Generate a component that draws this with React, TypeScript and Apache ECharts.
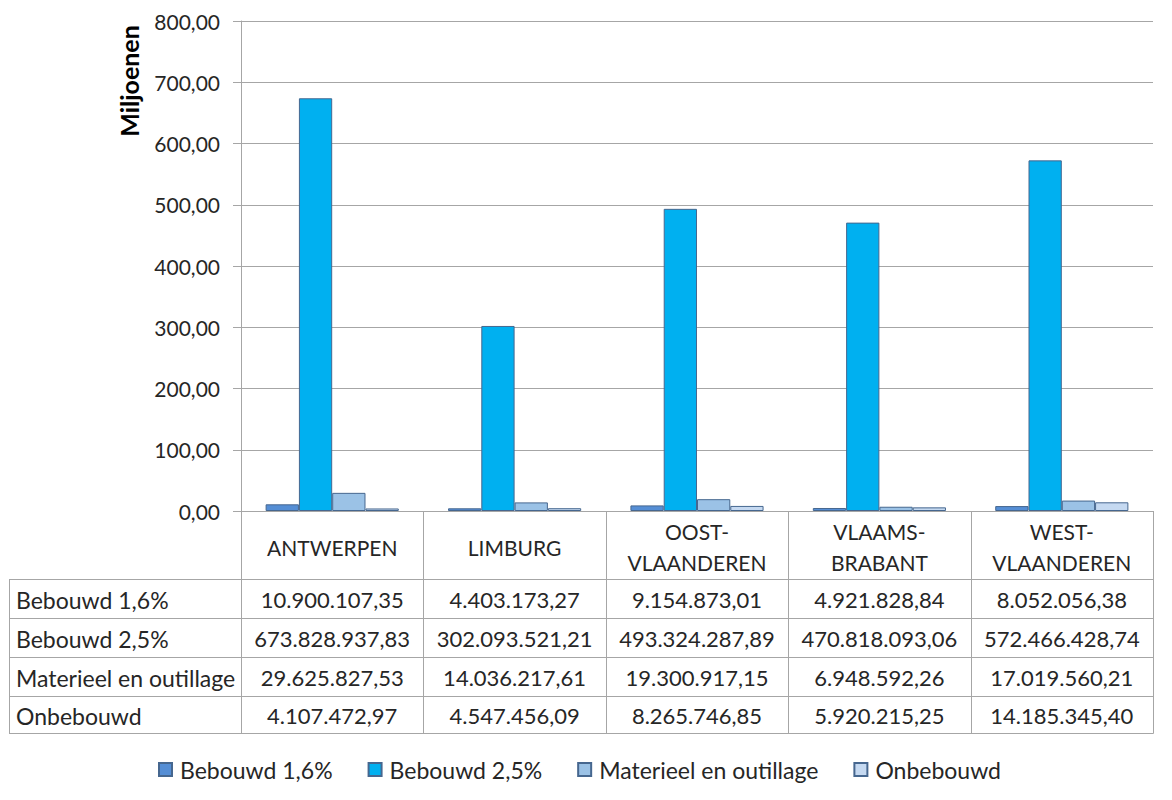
import React, { useEffect, useRef } from "react";
import * as echarts from "echarts";

const categories = ["ANTWERPEN", "LIMBURG", "OOST-\nVLAANDEREN", "VLAAMS-\nBRABANT", "WEST-\nVLAANDEREN"];
const seriesNames = ["Bebouwd 1,6%", "Bebouwd 2,5%", "Materieel en outillage", "Onbebouwd"];
const bebouwd16 = [10900107.35, 4403173.27, 9154873.01, 4921828.84, 8052056.38];
const bebouwd25 = [673828937.83, 302093521.21, 493324287.89, 470818093.06, 572466428.74];
const materieel = [29625827.53, 14036217.61, 19300917.15, 6948592.26, 17019560.21];
const onbebouwd = [4107472.97, 4547456.09, 8265746.85, 5920215.25, 14185345.4];
const colors = ["#558ED5", "#00B0F0", "#9BC2E6", "#C5D9F1"];
const yMin = 0;
const yMax = 800;
const yInterval = 100;

const allSeries = [bebouwd16, bebouwd25, materieel, onbebouwd];

function formatNL(v: number): string {
  const [intPart, dec] = v.toFixed(2).split(".");
  const grouped = intPart.replace(/\B(?=(\d{3})+(?!\d))/g, ".");
  return grouped + "," + dec;
}

const FONT = "Lato, 'Open Sans', sans-serif";
const TEXT = "#262626";
const LINE = "#a6a6a6";

export default function App() {
  const ref = useRef<HTMLDivElement>(null);
  useEffect(() => {
    if (!ref.current) return;
    const chart = echarts.init(ref.current, undefined, { renderer: "svg" });
    const gridLeft = 241;
    const gridRight = 1153;
    const gridTop = 21;
    const gridBottom = 511;
    chart.setOption({
      animation: false,
      textStyle: { fontFamily: FONT },
      grid: {
        left: gridLeft,
        right: 1172 - gridRight,
        top: gridTop,
        bottom: 800 - gridBottom,
        containLabel: false,
      },
      legend: {
        left: 153,
        top: 753,
        icon: "rect",
        itemWidth: 13,
        itemHeight: 13,
        itemGap: 35,
        textStyle: { fontFamily: FONT, fontSize: 23, color: TEXT, padding: [0, 0, 0, 3] },
        data: seriesNames,
      },
      xAxis: {
        type: "category",
        data: categories,
        axisLine: { show: true, lineStyle: { color: LINE, width: 1 } },
        axisTick: { show: false },
        axisLabel: {
          interval: 0,
          margin: 36,
          verticalAlign: "middle",
          lineHeight: 31,
          fontSize: 21,
          fontFamily: FONT,
          color: TEXT,
        },
      },
      yAxis: {
        type: "value",
        min: yMin,
        max: yMax,
        interval: yInterval,
        axisLine: { show: true, lineStyle: { color: LINE, width: 1 } },
        axisTick: { show: true, length: 8, lineStyle: { color: LINE } },
        splitLine: { show: true, lineStyle: { color: LINE, width: 1 } },
        axisLabel: {
          margin: 21,
          fontSize: 21,
          fontFamily: FONT,
          color: TEXT,
          formatter: (v: number) => v.toFixed(2).replace(".", ","),
        },
      },
      series: allSeries.map((arr, i) => ({
        name: seriesNames[i],
        type: "bar",
        data: arr.map((v) => v / 1e6),
        barGap: "0%",
        barCategoryGap: "27%",
        itemStyle: { color: colors[i], borderColor: "#46678f", borderWidth: 1 },
      })),
    });

    const centers = categories.map((c) => chart.convertToPixel({ xAxisIndex: 0 }, c) as number);
    const colW = (gridRight - gridLeft) / categories.length;
    const rowLines = [579, 618, 657, 696, 733];
    const tableLeft = 9;
    const graphics: any[] = [];
    const ln = (x1: number, y1: number, x2: number, y2: number) => ({
      type: "line",
      silent: true,
      shape: { x1, y1, x2, y2 },
      style: { stroke: LINE, lineWidth: 1 },
    });
    rowLines.forEach((y) => graphics.push(ln(tableLeft, y + 0.5, gridRight + 0.5, y + 0.5)));
    graphics.push(ln(tableLeft + 0.5, rowLines[0], tableLeft + 0.5, rowLines[4] + 0.5));
    for (let i = 0; i <= categories.length; i++) {
      const x = Math.round(gridLeft + colW * i) + 0.5;
      graphics.push(ln(x, gridBottom, x, rowLines[4] + 0.5));
    }
    seriesNames.forEach((name, r) => {
      const yc = (rowLines[r] + rowLines[r + 1]) / 2 + 1;
      graphics.push({
        type: "text",
        silent: true,
        x: 16,
        y: yc,
        style: { text: name, font: `23px ${FONT}`, fill: TEXT, textAlign: "left", textVerticalAlign: "middle" },
      });
      allSeries[r].forEach((v, c) => {
        graphics.push({
          type: "text",
          silent: true,
          x: centers[c],
          y: yc,
          style: { text: formatNL(v), font: `22px ${FONT}`, fill: TEXT, textAlign: "center", textVerticalAlign: "middle" },
        });
      });
    });
    graphics.push({
      type: "text",
      silent: true,
      x: 129,
      y: 81,
      rotation: Math.PI / 2,
      style: { text: "Miljoenen", font: `bold 25px ${FONT}`, fill: "#000", textAlign: "center", textVerticalAlign: "middle" },
    });
    chart.setOption({ graphic: graphics });

    return () => chart.dispose();
  }, []);
  return <div ref={ref} style={{ position: "absolute", left: 0, top: 0, width: 1172, height: 800, background: "#fff" }} />;
}
